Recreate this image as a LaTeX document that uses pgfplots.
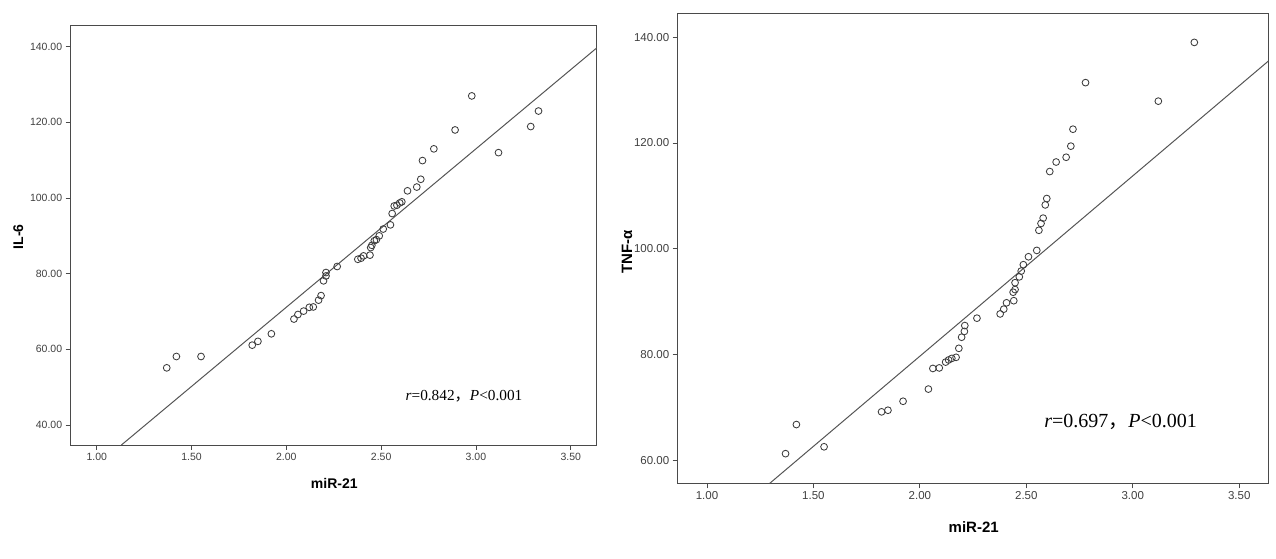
\documentclass[border=0pt]{standalone}
\usepackage{fontspec}
\setmainfont{Liberation Sans}
\newfontfamily\serifx{Liberation Serif}
\newfontfamily\cjk{Noto Sans CJK SC}
\usepackage{pgfplots}
\pgfplotsset{compat=1.18}
\definecolor{markc}{HTML}{3C3C3C}
\definecolor{linec}{HTML}{555555}
\definecolor{axisc}{HTML}{4A4A4A}
\definecolor{tickc}{HTML}{404040}
\pgfplotsset{
  sp/.style={
    scale only axis,
    axis line style={axisc, line width=0.9pt},
    tick style={axisc, line width=0.8pt},
    tick align=outside,
    major tick length=5pt,
    xtick pos=left, ytick pos=left,
    xmin=0.8625, xmax=3.6375,
    xtick={1,1.5,2,2.5,3,3.5},
    /pgf/number format/assume math mode=true,
    xticklabel style={/pgf/number format/.cd, fixed, fixed zerofill, precision=2},
    yticklabel style={/pgf/number format/.cd, fixed, fixed zerofill, precision=2},
    scaled ticks=false,
    clip=true,
  },
  dots/.style={only marks, mark=o, mark size=3.4pt, mark options={draw=markc, line width=0.85pt}},
  fitl/.style={no marks, color=linec, line width=1pt},
}
\begin{document}
\begin{tikzpicture}
\useasboundingbox (0,0) rectangle (1276pt,559pt);
% ---------------- Left: IL-6 ----------------
\begin{axis}[sp,
  at={(70.7pt,114pt)}, anchor=south west,
  width=526.1pt, height=420pt,
  ymin=34.7, ymax=145.75,
  ytick={40,60,80,100,120,140},
  ticklabel style={font=\fontsize{10.5}{12}\selectfont, text=tickc},
  xlabel={\bfseries miR-21}, ylabel={\bfseries IL-6},
  label style={font=\fontsize{14}{16}\selectfont},
  xlabel style={at={(axis description cs:0.501,-0.0912)}, anchor=center},
  ylabel style={at={(axis description cs:-0.0996,0.496)}, anchor=center},
]
\addplot[dots] coordinates {
(1.369,55.1) (1.420,58.1) (1.550,58.1) (1.820,61.1) (1.850,62.1) (1.921,64.1)
(2.040,68.0) (2.061,69.2) (2.091,70.1) (2.121,71.1) (2.142,71.2) (2.170,73.0)
(2.183,74.2) (2.196,78.1) (2.209,79.4) (2.209,80.3) (2.268,81.9) (2.377,83.8)
(2.394,84.1) (2.407,84.7) (2.441,84.9) (2.445,86.9) (2.451,87.5) (2.464,88.7)
(2.475,89.0) (2.490,90.0) (2.511,91.8) (2.549,92.9) (2.558,95.9) (2.569,97.9)
(2.583,98.1) (2.598,98.7) (2.609,99.0) (2.639,101.9) (2.688,102.9) (2.709,104.96)
(2.718,109.9) (2.778,113.0) (2.890,118.0) (2.978,127.0) (3.119,112.0) (3.289,118.9)
(3.330,123.0)
};
\addplot[fitl] coordinates {(1.13,34.7) (3.6375,139.7)};
\node[font=\serifx\fontsize{15.3}{17}\selectfont, anchor=center] at (axis cs:2.937,47.5)
  {\textit{r}=0.842{\cjk ，}\textit{P}<0.001};
\end{axis}
% ---------------- Right: TNF-alpha ----------------
\begin{axis}[sp,
  at={(677.7pt,75.7pt)}, anchor=south west,
  width=590.8pt, height=470pt,
  ymin=55.7, ymax=144.5,
  ytick={60,80,100,120,140},
  ticklabel style={font=\fontsize{11.5}{13}\selectfont, text=tickc},
  xlabel={\bfseries miR-21}, ylabel={\bfseries TNF-α},
  label style={font=\fontsize{15}{17}\selectfont},
  xlabel style={at={(axis description cs:0.501,-0.0936)}, anchor=center},
  ylabel style={at={(axis description cs:-0.0858,0.492)}, anchor=center},
]
\addplot[dots] coordinates {
(1.369,61.3) (1.420,66.8) (1.550,62.6) (1.820,69.2) (1.850,69.5) (1.921,71.2)
(2.040,73.5) (2.061,77.4) (2.091,77.5) (2.121,78.6) (2.135,79.0) (2.150,79.3)
(2.170,79.5) (2.183,81.2) (2.196,83.3) (2.209,84.4) (2.211,85.5) (2.268,86.9)
(2.377,87.7) (2.394,88.6) (2.407,89.8) (2.441,90.2) (2.438,91.8) (2.447,92.3)
(2.447,93.6) (2.467,94.7) (2.476,95.8) (2.486,97.0) (2.510,98.5) (2.549,99.7)
(2.559,103.5) (2.569,104.8) (2.579,105.8) (2.589,108.3) (2.596,109.5) (2.610,114.6)
(2.640,116.4) (2.687,117.3) (2.709,119.4) (2.719,122.6) (2.778,131.4) (3.120,127.9)
(3.289,139.0)
};
\addplot[fitl] coordinates {(1.295,55.7) (3.6375,135.5)};
\node[font=\serifx\fontsize{20}{22}\selectfont, anchor=center] at (axis cs:2.943,67.3)
  {\textit{r}=0.697{\cjk ，}\textit{P}<0.001};
\end{axis}
\end{tikzpicture}
\end{document}
